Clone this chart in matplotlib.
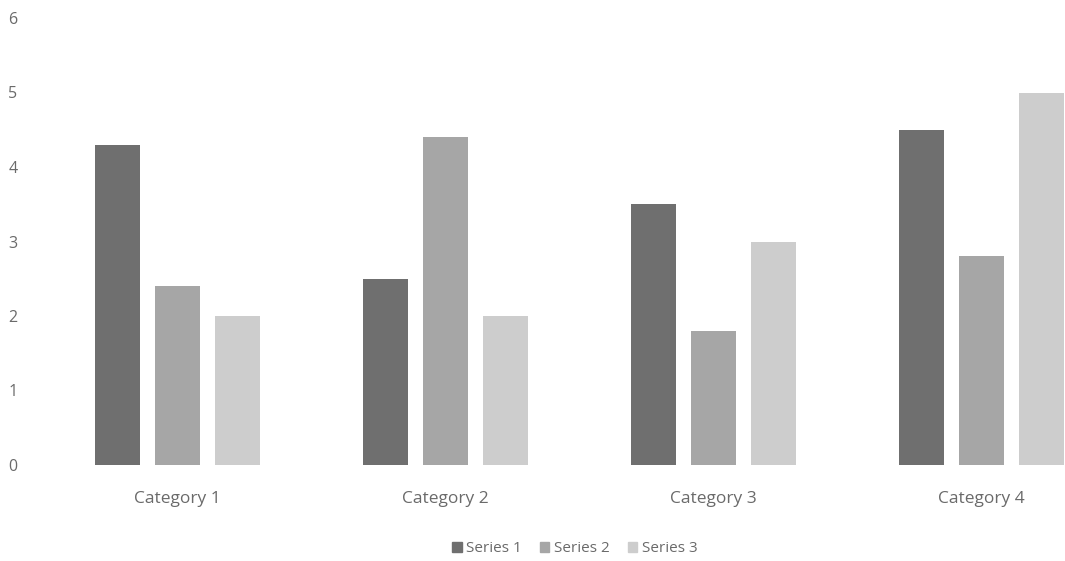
import matplotlib
matplotlib.use("Agg")
import matplotlib.pyplot as plt
import numpy as np
from matplotlib.patches import Patch

categories = ["Category 1", "Category 2", "Category 3", "Category 4"]
series_names = ["Series 1", "Series 2", "Series 3"]
series1 = [4.3, 2.5, 3.5, 4.5]
series2 = [2.4, 4.4, 1.8, 2.8]
series3 = [2.0, 2.0, 3.0, 5.0]
y_ticks = [0, 1, 2, 3, 4, 5, 6]

colors = ["#6f6f6f", "#a6a6a6", "#cdcdcd"]
text_color = "#6a6a6a"

plt.rcParams["font.family"] = ["Open Sans", "DejaVu Sans"]

W, H = 1065, 561
fig = plt.figure(figsize=(W / 100, H / 100), dpi=100)
left_px, bottom_px, top_px = 43, 96, 543
ax = fig.add_axes([left_px / W, bottom_px / H, (W - left_px) / W, (top_px - bottom_px) / H])

cat_px = 268.0
x = np.arange(len(categories))
width = 45 / cat_px
step = 60 / cat_px
for i, (vals, c, name) in enumerate(zip([series1, series2, series3], colors, series_names)):
    ax.bar(x + (i - 1) * step, vals, width=width, color=c, label=name)

ax.set_xlim(-0.5, -0.5 + (W - left_px) / cat_px)
ax.set_ylim(0, 6)
ax.set_yticks(y_ticks)
ax.set_yticklabels([str(v) for v in y_ticks], color=text_color, fontsize=11.5)
ax.set_xticks(x)
ax.set_xticklabels(categories, color=text_color, fontsize=12.5)
ax.tick_params(axis="both", length=0)
ax.tick_params(axis="x", pad=19)
for s in ax.spines.values():
    s.set_visible(False)
for lbl in ax.get_yticklabels():
    lbl.set_horizontalalignment("left")
ax.tick_params(axis="y", pad=25)

handles = [Patch(color=c) for c in colors]
fig.legend(handles, series_names, loc="center", bbox_to_anchor=(575 / W, 1 - 549 / H),
           ncol=3, frameon=False, fontsize=11, labelcolor=text_color,
           handlelength=0.6, handleheight=0.6, handletextpad=0.3, columnspacing=1.2)

fig.savefig("out.png", dpi=100, facecolor="white")
